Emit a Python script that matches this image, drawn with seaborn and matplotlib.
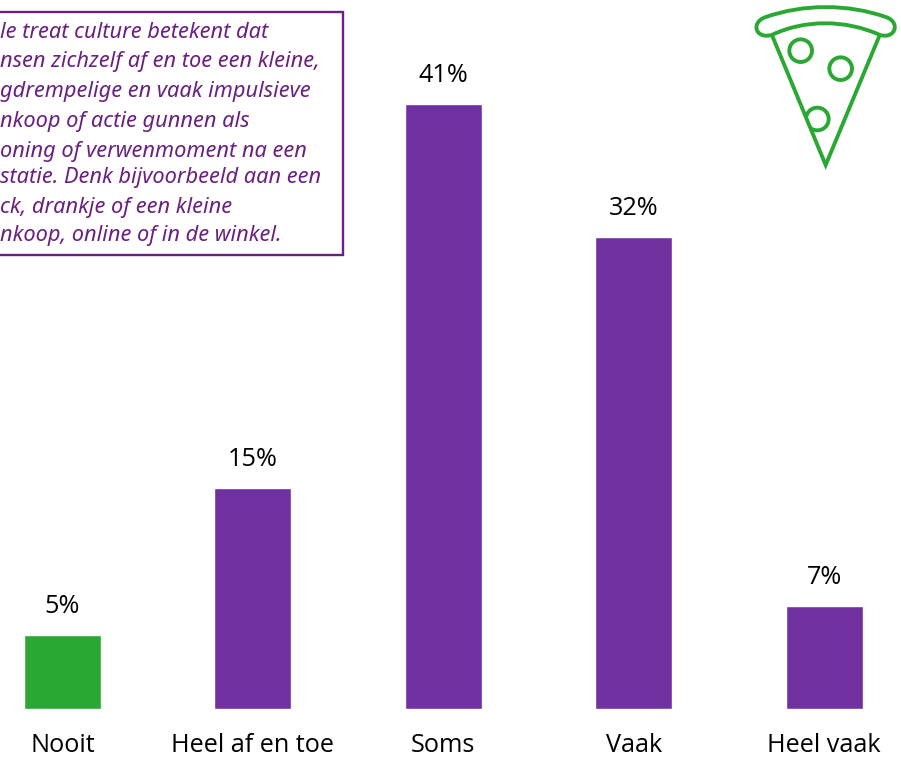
import matplotlib
matplotlib.use("Agg")
import matplotlib.pyplot as plt
import pandas as pd
import seaborn as sns
from matplotlib.patches import Circle, PathPatch, Polygon, Rectangle
from matplotlib.path import Path
from matplotlib.transforms import Affine2D

categories = ["Nooit", "Heel af en toe", "Soms", "Vaak", "Heel vaak"]
shares = [5, 15, 41, 32, 7]
bar_colors = ["#2BA834", "#7030A0", "#7030A0", "#7030A0", "#7030A0"]
note_lines = [
    "le treat culture betekent dat",
    "nsen zichzelf af en toe een kleine,",
    "gdrempelige en vaak impulsieve",
    "nkoop of actie gunnen als",
    "oning of verwenmoment na een",
    "statie. Denk bijvoorbeeld aan een",
    "ck, drankje of een kleine",
    "nkoop, online of in de winkel.",
]

W, H = 901, 757
GREEN = "#2BA834"
NOTE = "#6A2080"

sns.set_theme(style="white")
plt.rcParams["font.family"] = ["Open Sans", "DejaVu Sans"]

fig = plt.figure(figsize=(W / 100, H / 100), dpi=100, facecolor="white")
ax = fig.add_axes([0, (H - 709) / H, 1, 709 / H])

df = pd.DataFrame({"categorie": categories, "aandeel": shares})
sns.barplot(
    data=df, x="categorie", y="aandeel", hue="categorie",
    palette=bar_colors, width=0.405, legend=False, saturation=1, ax=ax,
)
ax.set_xlim(-0.328, 4.404)
ax.set_ylim(0, 709 / 14.75)
ax.set_xlabel("")
ax.set_ylabel("")
ax.set_yticks([])
ax.tick_params(axis="x", length=0, pad=17.5, labelsize=18.2, labelcolor="black")
sns.despine(ax=ax, left=True, bottom=True)

for container in ax.containers:
    ax.bar_label(container, fmt="%d%%", padding=11.5, fontsize=18.2, color="black")

# Pixel coordinates measured from the top-left corner of the figure
to_px = Affine2D().scale(1 / W, -1 / H).translate(0, 1) + fig.transFigure

fig.add_artist(Rectangle(
    (-20, 11.5), 363, 243.5, transform=to_px,
    facecolor="white", edgecolor=NOTE, linewidth=1.7, clip_on=False,
))
for line, y in zip(note_lines, [33, 62, 92, 121, 151, 178, 208, 236]):
    fig.text(
        0.5 / W, 1 - y / H, line, color=NOTE, fontsize=15.7,
        family=["Noto Sans", "DejaVu Sans"],
        style="italic", va="center", ha="left",
    )

# Pizza slice icon
icon = Affine2D().scale(1 / 3).translate(740, 0) + to_px
stroke = dict(facecolor="none", edgecolor=GREEN, linewidth=2.8, transform=icon)

crust = Path(
    [(75, 52), (190, 11), (325, 11), (440, 52),
     (482, 68), (466, 118), (420, 105),
     (315, 58), (195, 58), (95, 105),
     (46, 118), (32, 68), (75, 52)],
    [Path.MOVETO, Path.CURVE4, Path.CURVE4, Path.CURVE4,
     Path.CURVE4, Path.CURVE4, Path.CURVE4,
     Path.CURVE4, Path.CURVE4, Path.CURVE4,
     Path.CURVE4, Path.CURVE4, Path.CURVE4],
)
fig.add_artist(PathPatch(crust, **stroke))

slice_edges = Path(
    [(97, 108), (257, 495), (418, 108)],
    [Path.MOVETO, Path.LINETO, Path.LINETO],
)
fig.add_artist(PathPatch(slice_edges, joinstyle="miter", **stroke))

slice_area = Polygon([(97, 108), (257, 495), (418, 108)], transform=icon)
for centre in [(182, 152), (302, 206), (232, 357)]:
    topping = fig.add_artist(Circle(centre, 34, **stroke))
    topping.set_clip_path(slice_area)

fig.savefig("out.png", dpi=100, facecolor="white")
